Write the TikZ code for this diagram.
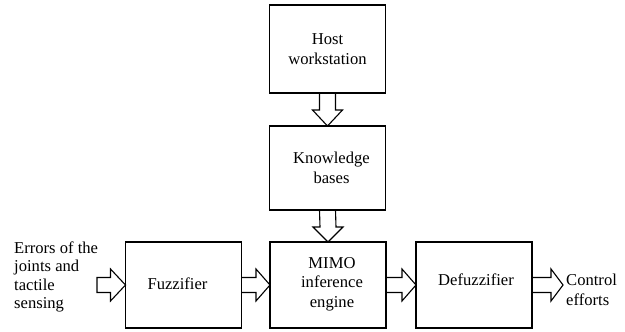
\documentclass[tikz,border=0pt]{standalone}
\usepackage{fontspec}
\setmainfont{Liberation Serif}
\usetikzlibrary{calc}

\tikzset{
  box/.style={draw, line width=1.2pt, minimum width=116pt, minimum height=86pt,
              inner sep=0pt, outer sep=0pt},
  lbl/.style={font=\fontsize{16.6}{19.5}\selectfont, align=center, inner sep=0pt},
  flow/.style={line width=1.1pt, line join=miter}
}

% hollow block arrow, left to right: {from}{to}{head length}
\newcommand\harrow[3]{%
  \draw[flow] ($(#1)+(0,-7.5)$) -- ($(#2)+(-#3,-7.5)$) -- ($(#2)+(-#3,-16)$)
    -- (#2) -- ($(#2)+(-#3,16)$) -- ($(#2)+(-#3,7.5)$) -- ($(#1)+(0,7.5)$);}
% hollow block arrow, top to bottom: {from}{to}{head length}
\newcommand\varrow[3]{%
  \draw[flow] ($(#1)+(-8,0)$) -- ($(#2)+(-8,-#3)$) -- ($(#2)+(-15,-#3)$)
    -- (#2) -- ($(#2)+(15,-#3)$) -- ($(#2)+(8,-#3)$) -- ($(#1)+(8,0)$);}

\begin{document}
\begin{tikzpicture}[x=1pt, y=-1pt]
  \useasboundingbox (0,0) rectangle (625,332);

  % blocks
  \node[box, minimum height=88pt] (host) at (327.5,49) {};
  \node[box, minimum height=84pt] (know) at (327.5,168) {};
  \node[box] (fuzz) at (183.5,285) {};
  \node[box] (mimo) at (328,285) {};
  \node[box] (defz) at (474,285) {};

  % block texts
  \node[lbl] (hostt) at (host) {Host\\workstation};
  \node[lbl] (knowt) at ($(know)+(4,0)$) {Knowledge\\bases};
  \node[lbl] (fuzzt) at ($(fuzz)+(-6,-1)$) {Fuzzifier};
  \node[lbl] (mimot) at ($(mimo)+(4,-1)$) {MIMO\\inference\\engine};
  \node[lbl] (defzt) at ($(defz)+(2,-5)$) {Defuzzifier};

  % signal texts
  \node[lbl, align=left, anchor=west, font=\fontsize{16.6}{18.5}\selectfont]
    (inlbl) at (14,277) {Errors of the\\joints and\\tactile\\sensing};
  \node[lbl, align=left, anchor=west] (outlbl) at (566,290) {Control\\efforts};

  % free ends of the outer arrows
  \coordinate (in) at (97,285);
  \coordinate (out) at (563,285);

  % data flow
  \varrow{host.south}{know.north}{16}
  \varrow{know.south}{mimo.north}{15}
  \draw[flow] ($(in)+(0,-7.5)$) -- ($(fuzz.west)+(-15,-7.5)$) -- ($(fuzz.west)+(-15,-16)$)
    -- (fuzz.west) -- ($(fuzz.west)+(-15,16)$) -- ($(fuzz.west)+(-15,7.5)$)
    -- ($(in)+(0,7.5)$) -- cycle;
  \harrow{fuzz.east}{mimo.west}{14}
  \harrow{mimo.east}{defz.west}{14}
  \harrow{defz.east}{out}{12}
\end{tikzpicture}
\end{document}
